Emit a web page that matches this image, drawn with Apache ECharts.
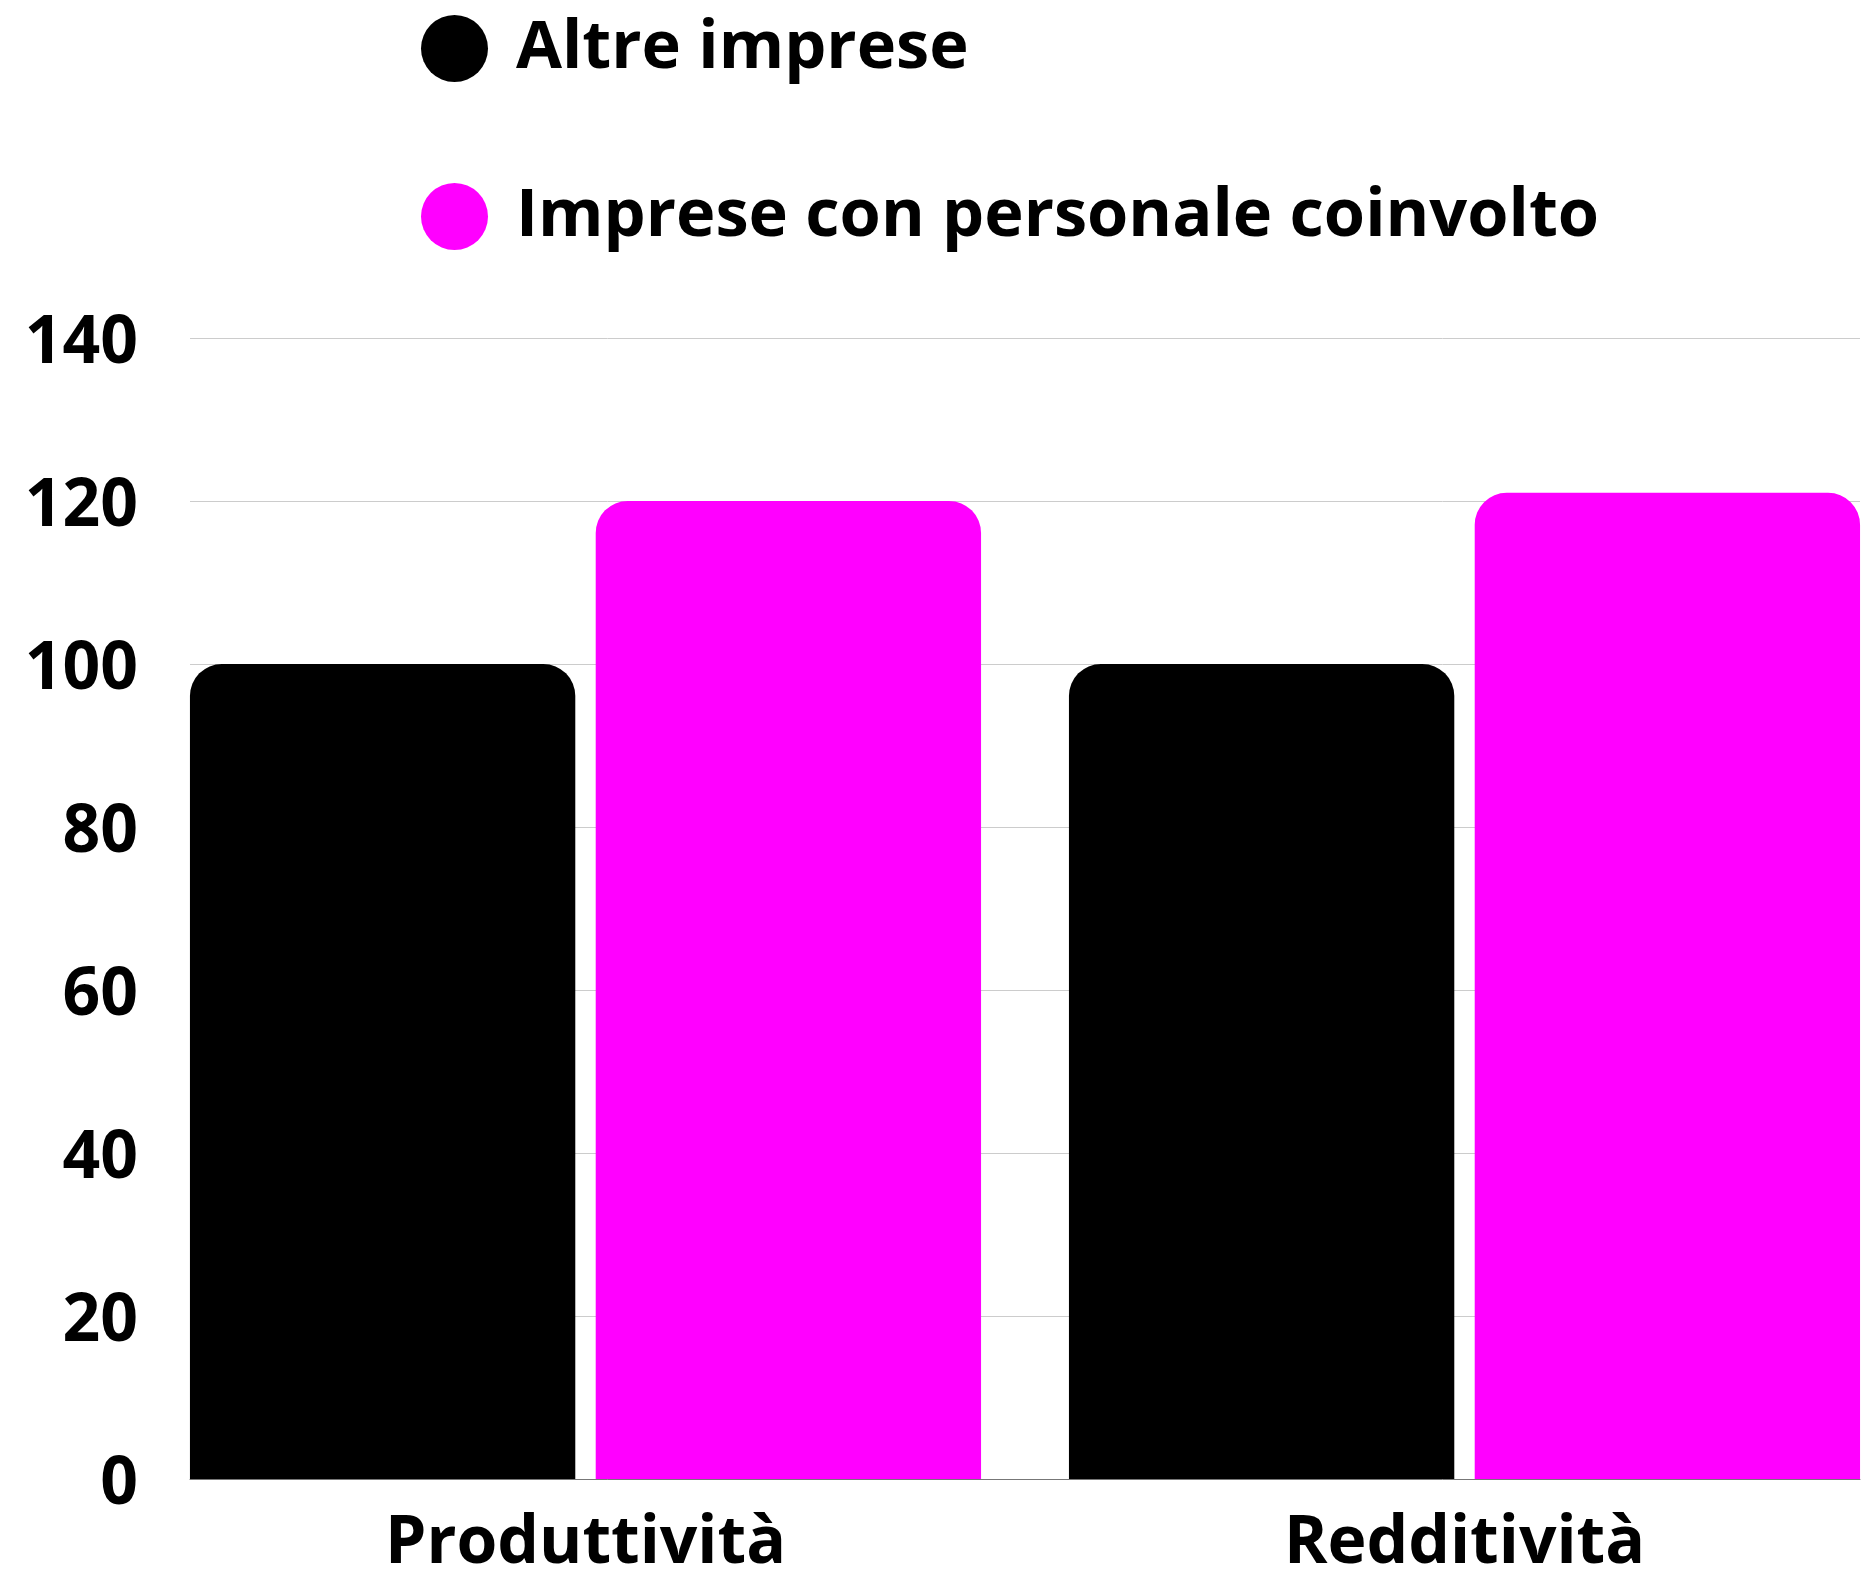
<!DOCTYPE html>
<html>
<head>
<meta charset="utf-8">
<script src="https://cdn.jsdelivr.net/npm/echarts@6/dist/echarts.min.js"></script>
<style>html,body{margin:0;padding:0;background:#fff}#c{width:1871px;height:1571px}</style>
</head>
<body>
<div id="c"></div>
<script>
const categories = ['Produttività', 'Redditività'];
const seriesNames = ['Altre imprese', 'Imprese con personale coinvolto'];
const altreImprese = [100, 100];
const impreseCoinvolto = [120, 121];
const yTicks = [0, 20, 40, 60, 80, 100, 120, 140];

const chart = echarts.init(document.getElementById('c'));
const font = 'Open Sans';
chart.setOption({
  animation: false,
  backgroundColor: '#fff',
  legend: {
    orient: 'vertical',
    left: 416,
    top: 10,
    itemWidth: 67,
    itemHeight: 68,
    itemGap: 101,
    icon: 'circle',
    textStyle: { fontFamily: font, fontWeight: 'bold', fontSize: 66.7, color: '#000', padding: [4, 0, 0, 23] },
    data: seriesNames
  },
  grid: [
    { left: 146, width: 1758, top: 338, bottom: 92, outerBoundsMode: 'none', containLabel: false },
    { left: 190, right: 11, top: 338, bottom: 92, outerBoundsMode: 'none', containLabel: false }
  ],
  xAxis: [
    {
      type: 'category', gridIndex: 0, data: categories,
      axisLine: { show: false }, axisTick: { show: false },
      axisLabel: { fontFamily: font, fontWeight: 'bold', fontSize: 66, color: '#000', margin: 32 }
    },
    {
      type: 'category', gridIndex: 1, data: categories,
      axisLine: { show: true, lineStyle: { color: '#777', width: 1 } },
      axisTick: { show: false }, axisLabel: { show: false }
    }
  ],
  yAxis: [
    { type: 'value', gridIndex: 0, min: yTicks[0], max: yTicks[yTicks.length - 1], interval: 20, show: false, splitLine: { show: false } },
    {
      type: 'value', gridIndex: 1, min: yTicks[0], max: yTicks[yTicks.length - 1], interval: 20,
      axisLine: { show: false }, axisTick: { show: false },
      axisLabel: { fontFamily: font, fontWeight: 'bold', fontSize: 66, color: '#000', margin: 52, verticalAlign: 'top', lineHeight: 12 },
      splitLine: { lineStyle: { color: '#cccccc', width: 1 } }
    }
  ],
  series: [
    {
      name: seriesNames[0], type: 'bar', xAxisIndex: 0, yAxisIndex: 0, data: altreImprese,
      itemStyle: { color: '#000000', borderRadius: [32, 32, 0, 0] },
      barGap: '5.3%', barCategoryGap: '10%', z: 3
    },
    {
      name: seriesNames[1], type: 'bar', xAxisIndex: 0, yAxisIndex: 0, data: impreseCoinvolto,
      itemStyle: { color: '#ff00ff', borderRadius: [32, 32, 0, 0] },
      barGap: '5.3%', barCategoryGap: '10%', z: 3
    }
  ]
});
</script>
</body>
</html>
